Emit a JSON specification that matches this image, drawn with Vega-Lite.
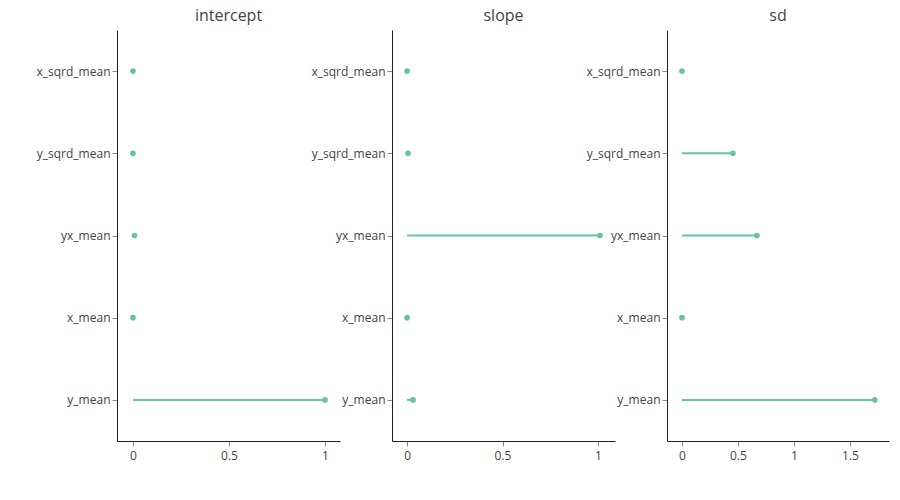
{
  "$schema": "https://vega.github.io/schema/vega-lite/v6.json",
  "padding": {"left": 36, "top": 8, "right": 5, "bottom": 5},
  "background": "white",
  "datasets": {
    "d": [
      {"panel": "intercept", "var": "x_sqrd_mean", "value": 0.0},
      {"panel": "intercept", "var": "y_sqrd_mean", "value": 0.0},
      {"panel": "intercept", "var": "yx_mean", "value": 0.008},
      {"panel": "intercept", "var": "x_mean", "value": 0.0},
      {"panel": "intercept", "var": "y_mean", "value": 1.0},
      {"panel": "slope", "var": "x_sqrd_mean", "value": 0.0},
      {"panel": "slope", "var": "y_sqrd_mean", "value": 0.005},
      {"panel": "slope", "var": "yx_mean", "value": 1.01},
      {"panel": "slope", "var": "x_mean", "value": 0.0},
      {"panel": "slope", "var": "y_mean", "value": 0.031},
      {"panel": "sd", "var": "x_sqrd_mean", "value": 0.0},
      {"panel": "sd", "var": "y_sqrd_mean", "value": 0.455},
      {"panel": "sd", "var": "yx_mean", "value": 0.67},
      {"panel": "sd", "var": "x_mean", "value": 0.0},
      {"panel": "sd", "var": "y_mean", "value": 1.723}
    ]
  },
  "spacing": 52,
  "bounds": "flush",
  "hconcat": [
    {
      "title": "intercept",
      "width": 223,
      "height": 411,
      "data": {"name": "d"},
      "transform": [{"filter": "datum.panel === 'intercept'"}],
      "encoding": {
        "y": {"field": "var", "type": "nominal", "sort": ["x_sqrd_mean", "y_sqrd_mean", "yx_mean", "x_mean", "y_mean"], "scale": {"type": "point", "padding": 0.5}, "axis": {"title": null}},
        "x": {"field": "value", "type": "quantitative", "scale": {"domain": [-0.083, 1.078], "nice": false, "zero": false}, "axis": {"title": null, "values": [0, 0.5, 1], "format": "~g"}}
      },
      "layer": [
        {
          "mark": {"type": "rule", "color": "#66c2a5", "strokeWidth": 2},
          "encoding": {"x2": {"datum": 0}}
        },
        {
          "mark": {"type": "point", "filled": true, "color": "#66c2a5", "size": 32, "opacity": 1},
          "encoding": {}
        }
      ]
    },
    {
      "title": "slope",
      "width": 223,
      "height": 411,
      "data": {"name": "d"},
      "transform": [{"filter": "datum.panel === 'slope'"}],
      "encoding": {
        "y": {"field": "var", "type": "nominal", "sort": ["x_sqrd_mean", "y_sqrd_mean", "yx_mean", "x_mean", "y_mean"], "scale": {"type": "point", "padding": 0.5}, "axis": {"title": null}},
        "x": {"field": "value", "type": "quantitative", "scale": {"domain": [-0.079, 1.089], "nice": false, "zero": false}, "axis": {"title": null, "values": [0, 0.5, 1], "format": "~g"}}
      },
      "layer": [
        {
          "mark": {"type": "rule", "color": "#66c2a5", "strokeWidth": 2},
          "encoding": {"x2": {"datum": 0}}
        },
        {
          "mark": {"type": "point", "filled": true, "color": "#66c2a5", "size": 32, "opacity": 1},
          "encoding": {}
        }
      ]
    },
    {
      "title": "sd",
      "width": 222,
      "height": 411,
      "data": {"name": "d"},
      "transform": [{"filter": "datum.panel === 'sd'"}],
      "encoding": {
        "y": {"field": "var", "type": "nominal", "sort": ["x_sqrd_mean", "y_sqrd_mean", "yx_mean", "x_mean", "y_mean"], "scale": {"type": "point", "padding": 0.5}, "axis": {"title": null}},
        "x": {"field": "value", "type": "quantitative", "scale": {"domain": [-0.134, 1.85], "nice": false, "zero": false}, "axis": {"title": null, "values": [0, 0.5, 1, 1.5], "format": "~g"}}
      },
      "layer": [
        {
          "mark": {"type": "rule", "color": "#66c2a5", "strokeWidth": 2},
          "encoding": {"x2": {"datum": 0}}
        },
        {
          "mark": {"type": "point", "filled": true, "color": "#66c2a5", "size": 32, "opacity": 1},
          "encoding": {}
        }
      ]
    }
  ],
  "config": {
    "font": "Open Sans",
    "view": {"stroke": null},
    "title": {"fontSize": 16, "fontWeight": "normal", "color": "#444", "font": "Open Sans", "offset": 6},
    "axis": {
      "grid": false,
      "labelFont": "Open Sans",
      "labelFontSize": 12,
      "labelColor": "#444",
      "domainColor": "#222",
      "domainWidth": 1,
      "tickColor": "#888",
      "tickSize": 5,
      "tickWidth": 1
    },
    "axisX": {"labelPadding": 4},
    "axisY": {"labelPadding": 2}
  }
}
